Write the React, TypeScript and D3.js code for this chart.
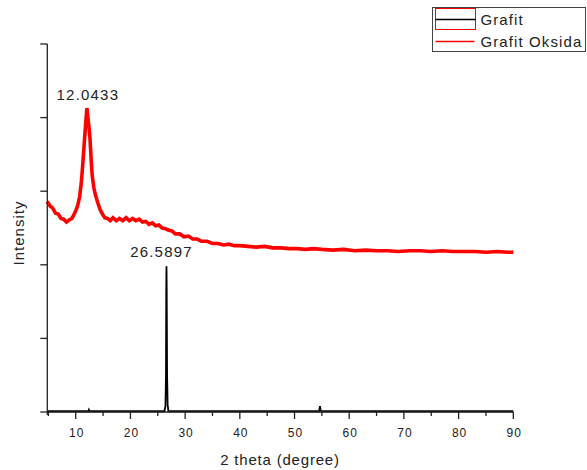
import React, { useEffect, useRef } from "react";
import * as d3 from "d3";

// Grafit Oksida (red) readings: [2 theta, intensity in tick units]
const oksidaTheta = [
  4.8, 5.3, 5.8, 6.3, 6.8, 7.3, 7.8, 8.3, 8.8, 9.3, 9.8, 10.3, 10.7, 11.0, 11.3, 11.6, 11.85, 12.04, 12.2, 12.4,
  12.6, 12.8, 13.0, 13.3, 13.6, 14.0, 14.4, 14.8, 15.3, 15.8, 16.3, 16.8, 17.4, 18.0, 18.6, 19.2, 19.8, 20.4, 21.0,
  21.6, 22.2, 22.8, 23.4, 24.0, 24.6, 25.2, 25.8, 26.4, 27.0, 27.6, 28.2, 29.0, 29.8, 30.6, 31.4, 32.2, 33.0, 34.0,
  35.0, 36.0, 37.0, 38.0, 39.0, 40.0, 41.5, 43.0, 44.5, 46.0, 47.5, 49.0, 50.5, 52.0, 53.5, 55.0, 57.0, 59.0, 61.0,
  63.0, 65.0, 67.0, 69.0, 71.0, 73.0, 75.0, 77.0, 79.0, 81.0, 83.0, 85.0, 87.0, 89.0, 90.0,
];
const oksidaValue = [
  2.86, 2.8, 2.77, 2.7, 2.69, 2.63, 2.62, 2.58, 2.61, 2.63, 2.7, 2.79, 2.92, 3.1, 3.38, 3.7, 3.95, 4.13, 4.02, 3.88,
  3.72, 3.45, 3.22, 3.05, 2.95, 2.85, 2.76, 2.7, 2.64, 2.63, 2.6, 2.64, 2.6, 2.63, 2.6, 2.64, 2.6, 2.63, 2.6,
  2.62, 2.58, 2.59, 2.55, 2.57, 2.53, 2.54, 2.5, 2.49, 2.47, 2.46, 2.42, 2.42, 2.38, 2.39, 2.35, 2.35, 2.32, 2.32,
  2.29, 2.29, 2.27, 2.28, 2.26, 2.26, 2.25, 2.24, 2.25, 2.23, 2.23, 2.22, 2.22, 2.21, 2.22, 2.21, 2.2, 2.21, 2.19,
  2.2, 2.19, 2.19, 2.18, 2.19, 2.19, 2.18, 2.19, 2.18, 2.18, 2.18, 2.17, 2.18, 2.17, 2.17,
];

// Grafit (black) readings
const grafitTheta = [4.8, 12.3, 12.4, 12.5, 26.2, 26.4, 26.5, 26.55, 26.59, 26.63, 26.7, 26.8, 26.95, 54.5, 54.65, 54.8, 90];
const grafitValue = [0.01, 0.01, 0.03, 0.01, 0.01, 0.08, 0.5, 1.65, 1.98, 1.65, 0.5, 0.1, 0.01, 0.01, 0.08, 0.01, 0.01];

const xMajorTicks = [10, 20, 30, 40, 50, 60, 70, 80, 90];
const xMinorTicks = [5, 15, 25, 35, 45, 55, 65, 75, 85];
const yTicks = [0, 1, 2, 3, 4, 5];

const peakLabels = [
  { theta: 12.04, value: 4.13, text: "12.0433", dx: 1, y: 100 },
  { theta: 26.59, value: 1.98, text: "26.5897", dx: -5, y: 257 },
];

const legendItems = ["Grafit", "Grafit Oksida"];

const FONT = "'Liberation Sans', Arial, sans-serif";

const App = () => {
  const svgRef = useRef(null);

  useEffect(() => {
    const svg = d3.select(svgRef.current);
    svg.selectAll("*").remove();

    const x = d3.scaleLinear().domain([4.8, 90]).range([47.3, 513.3]);
    const y = d3.scaleLinear().domain([0, 5]).range([412, 44]);

    const line = d3.line<[number, number]>()
      .x(d => x(d[0]))
      .y(d => y(d[1]));

    const grafit = grafitTheta.map((t, i) => [t, grafitValue[i]] as [number, number]);
    const oksida = oksidaTheta.map((t, i) => [t, oksidaValue[i]] as [number, number]);

    // series
    svg.append("path")
      .attr("d", line(oksida))
      .attr("fill", "none")
      .attr("stroke", "#ff0000")
      .attr("stroke-width", 3.6);

    svg.append("path")
      .attr("d", line(grafit))
      .attr("fill", "none")
      .attr("stroke", "#000")
      .attr("stroke-width", 1.8);

    // axes
    const axisColor = "#222";
    svg.append("line")
      .attr("x1", x(4.8)).attr("x2", x(90))
      .attr("y1", y(0)).attr("y2", y(0))
      .attr("stroke", axisColor).attr("stroke-width", 1.3);
    svg.append("line")
      .attr("x1", x(4.8)).attr("x2", x(4.8))
      .attr("y1", y(5)).attr("y2", y(0) + 3)
      .attr("stroke", axisColor).attr("stroke-width", 1.3);

    svg.selectAll(".xmaj").data(xMajorTicks).enter().append("line")
      .attr("x1", d => x(d)).attr("x2", d => x(d))
      .attr("y1", y(0)).attr("y2", y(0) + 7)
      .attr("stroke", axisColor).attr("stroke-width", 1.3);
    svg.selectAll(".xmin").data(xMinorTicks).enter().append("line")
      .attr("x1", d => x(d)).attr("x2", d => x(d))
      .attr("y1", y(0)).attr("y2", y(0) + 4)
      .attr("stroke", axisColor).attr("stroke-width", 1.3);
    svg.selectAll(".ytk").data(yTicks).enter().append("line")
      .attr("x1", x(4.8) - 7).attr("x2", x(4.8))
      .attr("y1", d => y(d)).attr("y2", d => y(d))
      .attr("stroke", axisColor).attr("stroke-width", 1.3);

    svg.selectAll(".xlab").data(xMajorTicks).enter().append("text")
      .attr("x", d => x(d) + 1)
      .attr("y", 437)
      .attr("text-anchor", "middle")
      .attr("font-family", FONT)
      .attr("font-size", 12)
      .attr("letter-spacing", 1)
      .attr("fill", "#222")
      .text(d => d);

    svg.append("text")
      .attr("x", 280)
      .attr("y", 465)
      .attr("text-anchor", "middle")
      .attr("font-family", FONT)
      .attr("font-size", 15)
      .attr("letter-spacing", 0.8)
      .attr("fill", "#222")
      .text("2 theta (degree)");

    svg.append("text")
      .attr("transform", "translate(24,233) rotate(-90)")
      .attr("text-anchor", "middle")
      .attr("font-family", FONT)
      .attr("font-size", 15)
      .attr("letter-spacing", 1)
      .attr("fill", "#222")
      .text("Intensity");

    // peak annotations
    svg.selectAll(".peak").data(peakLabels).enter().append("text")
      .attr("x", d => x(d.theta) + d.dx)
      .attr("y", d => d.y)
      .attr("text-anchor", "middle")
      .attr("font-family", FONT)
      .attr("font-size", 15)
      .attr("letter-spacing", 1.2)
      .attr("fill", "#222")
      .text(d => d.text);

    // legend
    const legend = svg.append("g").attr("transform", "translate(432.5,7.5)");
    legend.append("rect")
      .attr("width", 153).attr("height", 44)
      .attr("fill", "#fff")
      .attr("stroke", "#444").attr("stroke-width", 1);
    legend.append("rect")
      .attr("x", 3).attr("y", 1)
      .attr("width", 40).attr("height", 21)
      .attr("fill", "none")
      .attr("stroke", "#ff0000").attr("stroke-width", 1);
    legend.append("line")
      .attr("x1", 3).attr("x2", 43)
      .attr("y1", 12).attr("y2", 12)
      .attr("stroke", "#000").attr("stroke-width", 1.5);
    legend.append("line")
      .attr("x1", 3).attr("x2", 42)
      .attr("y1", 34).attr("y2", 34)
      .attr("stroke", "#ff0000").attr("stroke-width", 1.5);
    legend.selectAll(".lt").data(legendItems).enter().append("text")
      .attr("x", 48)
      .attr("y", (d, i) => 17 + i * 22)
      .attr("font-family", FONT)
      .attr("font-size", 15)
      .attr("letter-spacing", 1.1)
      .attr("fill", "#222")
      .text(d => d);
  }, []);

  return (
    <svg
      ref={svgRef}
      width={587}
      height={470}
      style={{ position: "absolute", left: 0, top: 0, background: "#fff" }}
    ></svg>
  );
};

export default App;
